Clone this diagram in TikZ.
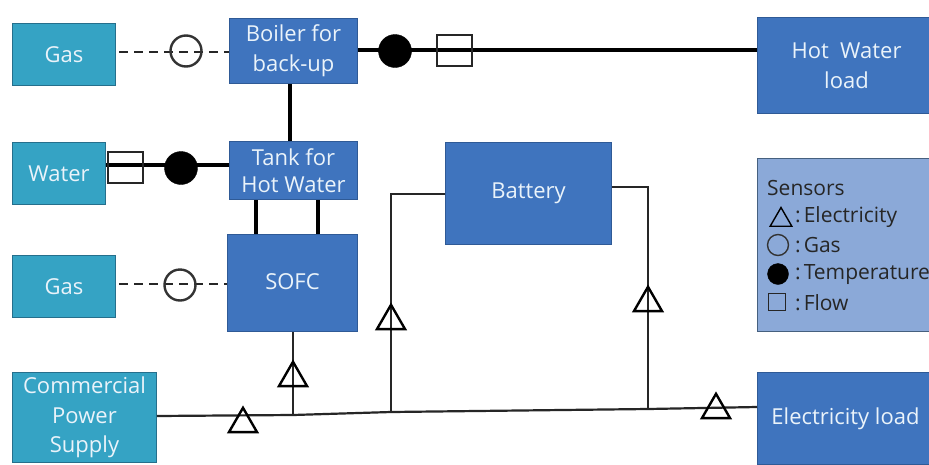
\documentclass[tikz,border=0pt]{standalone}
\usepackage{fontspec}
\setmainfont{Open Sans}
\usetikzlibrary{shapes.geometric}
\definecolor{tealbox}{HTML}{35A3C4}
\definecolor{tealedge}{HTML}{256F8C}
\definecolor{bluebox}{HTML}{3F74BE}
\definecolor{blueedge}{HTML}{2F5A96}
\definecolor{lightbox}{HTML}{8BA9D8}
\definecolor{lightedge}{HTML}{46607F}
\definecolor{boxtext}{HTML}{EAF3FA}
\tikzset{
  x=1pt,y=-1pt,
  boxbase/.style={anchor=north west,inner sep=0pt,align=center,font=\fontsize{22}{30}\selectfont,text=boxtext,line width=1pt},
  srcbox/.style={boxbase,fill=tealbox,draw=tealedge},
  unitbox/.style={boxbase,fill=bluebox,draw=blueedge},
  thinline/.style={line width=2.2pt,draw=black!85},
  thickline/.style={line width=3.6pt,draw=black},
  gasline/.style={line width=2pt,draw=black!85,dash pattern=on 9pt off 6pt},
  elecsens/.style={regular polygon,regular polygon sides=3,minimum size=32.4pt,inner sep=0pt,draw=black,line width=2.4pt},
  gassens/.style={circle,minimum size=31pt,inner sep=0pt,draw=black!80,line width=2.4pt},
  tempsens/.style={circle,minimum size=33pt,inner sep=0pt,fill=black,draw=black},
  flowsens/.style={rectangle,minimum width=35pt,minimum height=31pt,inner sep=0pt,draw=black!85,line width=2pt},
  legtext/.style={anchor=west,inner sep=0pt,text=black!85,font=\fontsize{21}{24}\selectfont},
}
\begin{document}
\begin{tikzpicture}
\useasboundingbox (0,0) rectangle (929,464);
\fill[white] (0,0) rectangle (929,464);

% boxes
\node[srcbox,minimum width=103pt,minimum height=62pt] (gasa) at (12,23) {Gas};
\node[unitbox,minimum width=128pt,minimum height=65pt] (boiler) at (229,18) {Boiler for\\back-up};
\node[unitbox,minimum width=178pt,minimum height=96pt] (hot) at (757,17) {Hot\ \ Water\\load};
\node[srcbox,minimum width=93pt,minimum height=62pt] (water) at (12,142) {Water};
\node[unitbox,minimum width=128pt,minimum height=58pt,font=\fontsize{22}{27}\selectfont] (tank) at (229,141) {Tank for\\Hot Water};
\node[unitbox,minimum width=166pt,minimum height=102pt] (battery) at (445,142) {Battery};
\node[boxbase,fill=lightbox,draw=lightedge,minimum width=178pt,minimum height=173pt] (sensors) at (757,158) {};
\node[srcbox,minimum width=103pt,minimum height=62pt] (gasb) at (12,255) {Gas};
\node[unitbox,minimum width=130pt,minimum height=97pt] (sofc) at (227,234) {\raisebox{2pt}{SOFC}};
\node[srcbox,minimum width=144pt,minimum height=90pt,font=\fontsize{22}{29.5}\selectfont] (grid) at (12,372) {Commercial\\Power\\Supply};
\node[unitbox,minimum width=176pt,minimum height=92pt] (eload) at (757,372) {Electricity load};

% free coordinates on the bus
\coordinate (busa) at (grid.east |- 0,416);
\coordinate (busb) at (eload.west |- 0,407);
\coordinate (jsofc) at (293,415);
\coordinate (jbatl) at (391,412);
\coordinate (jbatr) at (648,409);
\coordinate (batl) at (battery.west |- 0,194);
\coordinate (batr) at (battery.east |- 0,187);

% connectors
\draw[gasline] (gasa.east |- 0,52) ++(3,0) -- (boiler.west |- 0,52);
\draw[gasline] (gasb.east |- 0,284) ++(3,0) -- (sofc.west |- 0,284);
\draw[thickline] (boiler.east |- 0,50) -- (hot.west |- 0,50);
\draw[thickline] (water.east |- 0,165) -- (tank.west |- 0,165);
\draw[thickline] (boiler.south -| 290,0) -- (tank.north -| 290,0);
\draw[thickline] (tank.south -| 256,0) -- (sofc.north -| 256,0);
\draw[thickline] (tank.south -| 318,0) -- (sofc.north -| 318,0);
\draw[thinline] (busa) -- (jsofc) -- (jbatl) -- (jbatr) -- (busb);
\draw[thinline] (sofc.south -| jsofc) -- (jsofc);
\draw[thinline] (batl) -| (jbatl);
\draw[thinline] (batr) -| (jbatr);

% sensors on lines
\node[gassens] (sga) at (186,51) {};
\node[gassens] (sgb) at (180,285) {};
\node[tempsens] (sta) at (395,51) {};
\node[tempsens] (stb) at (181,168) {};
\node[flowsens] (sfa) at (454.5,50.5) {};
\node[flowsens] (sfb) at (125,167.5) {};
\node[elecsens] (sea) at (293,378) {};
\node[elecsens] (seb) at (243,424) {};
\node[elecsens] (sec) at (391,321) {};
\node[elecsens] (sed) at (648,303) {};
\node[elecsens] (see) at (716,410) {};

% legend
\node[legtext] (ltitle) at (767,188) {Sensors};
\node[elecsens,minimum size=25pt,line width=1.4pt] (lsa) at (781,220) {};
\node[legtext] (lta) at (795,217) {:\kern3pt Electricity};
\node[gassens,minimum size=21pt,line width=1.4pt] (lsb) at (778,245) {};
\node[legtext] (ltb) at (795,245) {:\kern3pt Gas};
\node[tempsens,minimum size=21pt] (lsc) at (778,274) {};
\node[legtext] (ltc) at (795,275) {:\kern3pt Temperature};
\node[flowsens,minimum width=17pt,minimum height=17pt,line width=1.4pt] (lsd) at (777,302) {};
\node[legtext] (ltd) at (795,303) {:\kern3pt Flow};
\end{tikzpicture}
\end{document}
